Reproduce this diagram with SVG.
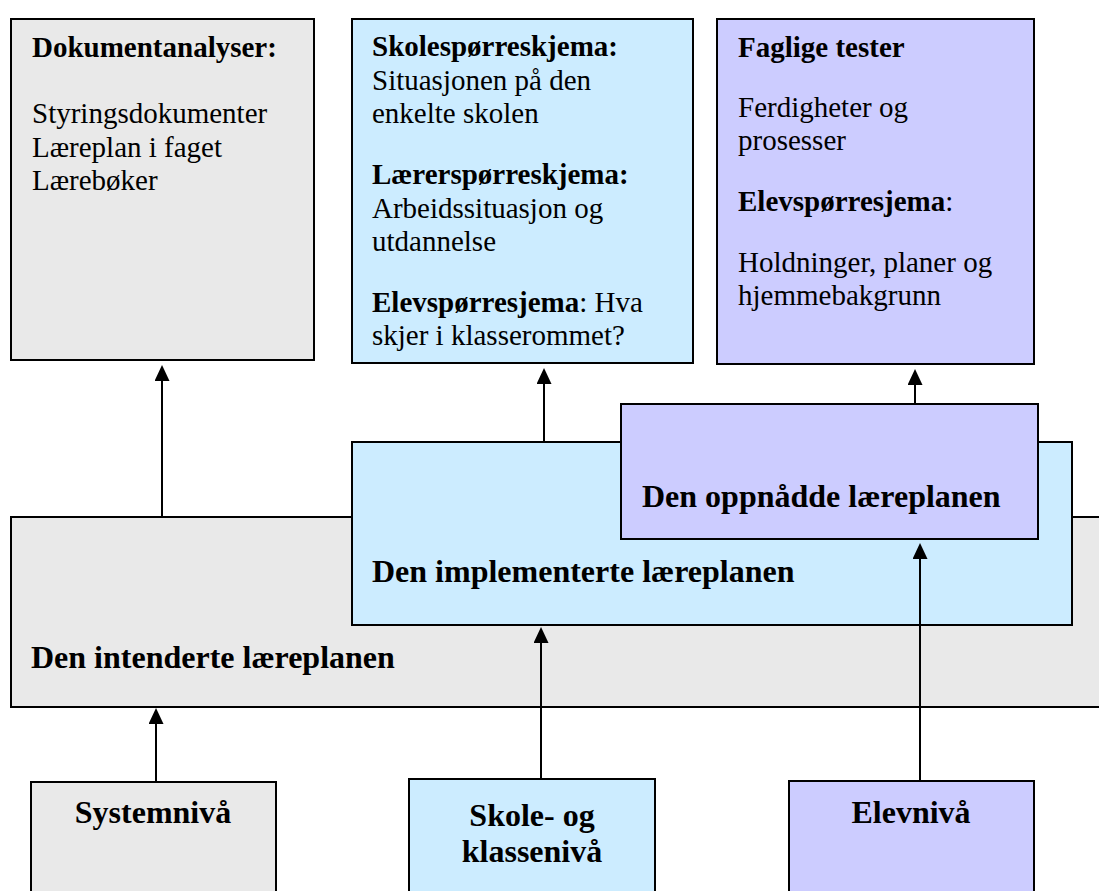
<svg xmlns="http://www.w3.org/2000/svg" width="1099" height="891" viewBox="0 0 1099 891">
  <style>
    .box { stroke: #000; stroke-width: 2; }
    .grey { fill: #E9E9E9; }
    .blue { fill: #CCECFF; }
    .purple { fill: #CCCCFF; }
    .t { font-family: "Liberation Serif", "Times New Roman", serif; font-size: 29px; fill: #000; }
    .b { font-weight: bold; }
    .lbl { font-family: "Liberation Serif", "Times New Roman", serif; font-size: 32px; font-weight: bold; fill: #000; }
    .mid { text-anchor: middle; }
    .conn { stroke: #000; stroke-width: 2; fill: none; marker-end: url(#arrow); }
  </style>
  <defs>
    <marker id="arrow" markerUnits="userSpaceOnUse" markerWidth="16" markerHeight="15" viewBox="0 0 16 15" refX="0" refY="7.5" orient="auto">
      <path d="M0,0 L16,7.5 L0,15 z" fill="#000"/>
    </marker>
  </defs>
  <rect width="1099" height="891" fill="#fff"/>

  <g id="dokumentanalyser">
    <rect class="box grey" x="11" y="19" width="303" height="341"/>
    <text class="t b" x="32" y="57">Dokumentanalyser:</text>
    <text class="t" x="32" y="123">Styringsdokumenter</text>
    <text class="t" x="32" y="157">Læreplan i faget</text>
    <text class="t" x="32" y="190">Lærebøker</text>
  </g>

  <g id="sporreskjema">
    <rect class="box blue" x="352" y="19" width="341" height="344"/>
    <text class="t b" x="372" y="56">Skolespørreskjema:</text>
    <text class="t" x="372" y="90">Situasjonen på den</text>
    <text class="t" x="372" y="123">enkelte skolen</text>
    <text class="t b" x="372" y="184">Lærerspørreskjema:</text>
    <text class="t" x="372" y="218">Arbeidssituasjon og</text>
    <text class="t" x="372" y="251">utdannelse</text>
    <text class="t" x="372" y="312"><tspan class="b">Elevspørresjema</tspan>: Hva</text>
    <text class="t" x="372" y="345">skjer i klasserommet?</text>
  </g>

  <g id="faglige-tester">
    <rect class="box purple" x="717" y="19" width="317" height="345"/>
    <text class="t b" x="738" y="57">Faglige tester</text>
    <text class="t" x="738" y="117">Ferdigheter og</text>
    <text class="t" x="738" y="150">prosesser</text>
    <text class="t" x="738" y="211"><tspan class="b">Elevspørresjema</tspan>:</text>
    <text class="t" x="738" y="272">Holdninger, planer og</text>
    <text class="t" x="738" y="305">hjemmebakgrunn</text>
  </g>

  <g id="intenderte">
    <rect class="box grey" x="11" y="517" width="1100" height="190"/>
    <text class="lbl" x="31" y="668">Den intenderte læreplanen</text>
  </g>

  <g id="implementerte">
    <rect class="box blue" x="352" y="442" width="720" height="183"/>
    <text class="lbl" x="372" y="582">Den implementerte læreplanen</text>
  </g>

  <g id="oppnadde">
    <rect class="box purple" x="621" y="404" width="417" height="135"/>
    <text class="lbl" x="642" y="507">Den oppnådde læreplanen</text>
  </g>

  <g id="systemniva">
    <rect class="box grey" x="31" y="782" width="245" height="120"/>
    <text class="lbl mid" x="153" y="823">Systemnivå</text>
  </g>

  <g id="skoleniva">
    <rect class="box blue" x="409" y="779" width="246" height="120"/>
    <text class="lbl mid" x="532" y="826">Skole- og</text>
    <text class="lbl mid" x="532" y="862">klassenivå</text>
  </g>

  <g id="elevniva">
    <rect class="box purple" x="789" y="781" width="245" height="120"/>
    <text class="lbl mid" x="911" y="823">Elevnivå</text>
  </g>

  <g id="connectors">
    <line class="conn" x1="162" y1="517" x2="162" y2="381"/>
    <line class="conn" x1="544" y1="442" x2="544" y2="384"/>
    <line class="conn" x1="915" y1="404" x2="915" y2="385"/>
    <line class="conn" x1="156" y1="782" x2="156" y2="724"/>
    <line class="conn" x1="541" y1="779" x2="541" y2="643"/>
    <line class="conn" x1="920" y1="781" x2="920" y2="559"/>
  </g>
</svg>
